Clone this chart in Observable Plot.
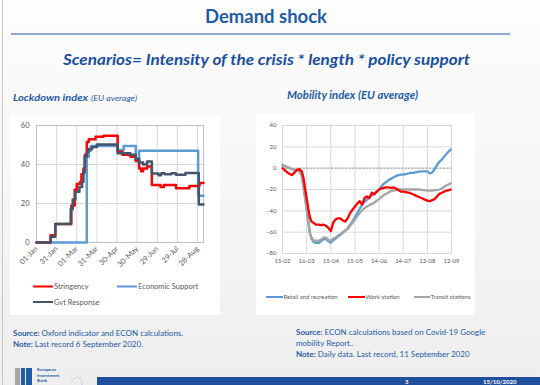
<!DOCTYPE html>
<html><head><meta charset="utf-8">
<script src="https://cdn.jsdelivr.net/npm/d3@7"></script>
<script src="https://cdn.jsdelivr.net/npm/@observablehq/plot@0.6"></script>
<style>
html,body{margin:0;padding:0;}
body{width:540px;height:385px;overflow:hidden;position:relative;font-family:Lato,sans-serif;background:linear-gradient(#fdfdfd 0%,#f8f8f8 35%,#eeeeee 100%);}
#bg{position:absolute;left:0;top:0;}
.chart{position:absolute;}
</style></head><body>
<svg id="bg" width="540" height="385" font-family="Lato, sans-serif">
  <line x1="2.5" y1="0" x2="2.5" y2="385" stroke="#c8c8c8" stroke-width="1"/>
  <text x="205" y="23" font-size="19" font-weight="bold" fill="#1f5aa6" textLength="122" lengthAdjust="spacingAndGlyphs">Demand shock</text>
  <line x1="11" y1="34" x2="510" y2="34" stroke="#1f5aa6" stroke-width="1"/>
  <text x="63" y="65" font-size="15" font-weight="bold" font-style="italic" fill="#1a4f9e" textLength="407" lengthAdjust="spacingAndGlyphs">Scenarios= Intensity of the crisis * length * policy support</text>
  <text x="13" y="101" font-size="10" font-weight="bold" font-style="italic" fill="#1f5aa6" textLength="75" lengthAdjust="spacingAndGlyphs">Lockdown index</text>
  <text x="91" y="101" font-size="7" font-style="italic" fill="#1f5aa6" textLength="46" lengthAdjust="spacingAndGlyphs">(EU average)</text>
  <text x="287" y="99" font-size="10.5" font-weight="bold" font-style="italic" fill="#1f5aa6" textLength="131" lengthAdjust="spacingAndGlyphs">Mobility index (EU average)</text>
  <rect x="10" y="115" width="210" height="200" fill="#ffffff"/>
  <rect x="256" y="114" width="219" height="201" fill="#ffffff"/>
  <g font-size="7.5" fill="#595959">
    <line x1="33" y1="286.5" x2="53" y2="286.5" stroke="#ff0000" stroke-width="2"/>
    <text x="54" y="289">Stringency</text>
    <line x1="117" y1="286.5" x2="137" y2="286.5" stroke="#5b9bd5" stroke-width="2"/>
    <text x="138" y="289">Economic Support</text>
    <line x1="33" y1="302" x2="53" y2="302" stroke="#44546a" stroke-width="2"/>
    <text x="54" y="304.5">Gvt Response</text>
  </g>
  <g font-size="6" fill="#595959">
    <line x1="266" y1="297" x2="283" y2="297" stroke="#5b9bd5" stroke-width="2"/>
    <text x="283.5" y="299">Retail and recreation</text>
    <line x1="348" y1="297" x2="365" y2="297" stroke="#ff0000" stroke-width="2"/>
    <text x="365.5" y="299">Work station</text>
    <line x1="414" y1="297" x2="430" y2="297" stroke="#a5a5a5" stroke-width="2"/>
    <text x="430.5" y="299">Transit stations</text>
  </g>
  <g font-size="8" fill="#1f5aa6">
    <text x="13" y="336"><tspan font-weight="bold">Source: </tspan>Oxford indicator and ECON calculations.</text>
    <text x="13" y="346.5"><tspan font-weight="bold">Note: </tspan>Last record 6 September 2020.</text>
    <text x="296" y="335"><tspan font-weight="bold">Source: </tspan>ECON calculations based on Covid-19 Google</text>
    <text x="296" y="346">mobility Report..</text>
    <text x="296" y="356.5"><tspan font-weight="bold">Note: </tspan>Daily data. Last record, 11 September 2020</text>
  </g>
  <rect x="97" y="377" width="443" height="8" fill="#1f4e9c"/>
  <g font-size="6" font-weight="bold" fill="#ffffff">
    <text x="405" y="383.5">3</text>
    <text x="483" y="383.5">15/10/2020</text>
  </g>
  <rect x="15" y="368" width="5" height="17" fill="#a6a6a6"/>
  <rect x="21" y="368" width="4" height="17" fill="#1f5aa6"/>
  <rect x="26" y="368" width="6" height="17" fill="#1f5aa6"/>
  <g font-size="4.5" font-weight="bold" fill="#1f5aa6">
    <text x="37" y="371">European</text>
    <text x="37" y="376.5">Investment</text>
    <text x="37" y="382">Bank</text>
  </g>
  <g fill="#7f9fcf">
    <circle cx="72" cy="381" r="0.6"/><circle cx="74" cy="378.5" r="0.6"/><circle cx="77" cy="377.5" r="0.6"/>
    <circle cx="80" cy="378.5" r="0.6"/><circle cx="82" cy="381" r="0.6"/><circle cx="82" cy="384" r="0.6"/>
  </g>
</svg>
<script>
// ---------- Lockdown index (step series) ----------
const stringencyDates = ["2020-01-01","2020-01-22","2020-01-29","2020-02-22","2020-02-27","2020-03-01","2020-03-06","2020-03-08","2020-03-11","2020-03-13","2020-03-16","2020-03-19","2020-03-29","2020-04-10","2020-05-01","2020-05-08","2020-05-20","2020-05-28","2020-06-02","2020-06-05","2020-06-08","2020-06-14","2020-06-21","2020-07-04","2020-07-09","2020-07-27","2020-08-16","2020-08-31","2020-09-06"];
const stringencyValues = [0,3.7,9.5,19,27,30,31,35,38,45,51.5,53,54.2,54.8,46.5,45,44,42,38,36.5,38,39,29.5,28.5,29.5,27.8,29,30.5,30.5];

const supportDates = ["2020-01-01","2020-03-16","2020-03-19","2020-03-22","2020-05-01","2020-05-10","2020-05-28","2020-06-02","2020-08-29","2020-09-06"];
const supportValues = [0,44,47,49.5,47.5,49.5,41.5,47,24,24];

const responseDates = ["2020-01-01","2020-01-22","2020-01-29","2020-02-21","2020-02-24","2020-02-28","2020-03-05","2020-03-09","2020-03-11","2020-03-13","2020-03-16","2020-03-19","2020-03-24","2020-03-31","2020-05-01","2020-05-20","2020-05-28","2020-06-02","2020-06-08","2020-06-14","2020-06-21","2020-07-01","2020-07-05","2020-07-10","2020-07-20","2020-07-27","2020-08-10","2020-08-30","2020-09-06"];
const responseValues = [0,3,9.5,17,22,26,28.5,31,36,44,46.5,48,49,50.3,45.8,45,43,41,40,41.5,35.4,34.5,35.5,35,35.5,34.8,35.6,19.5,19.5];

const lockdownTickDates = ["2020-01-01","2020-01-31","2020-03-01","2020-03-31","2020-04-30","2020-05-30","2020-06-29","2020-07-29","2020-08-28"];
const lockdownTickLabels = ["01-Jan","31-Jan","01-Mar","31-Mar","30-Apr","30-May","29-Jun","29-Jul","28-Aug"];
const lockdownYTicks = [0,20,40,60];

// ---------- Mobility index (daily readings) ----------
const mobilityDates = ["2020-02-15","2020-02-18","2020-02-21","2020-02-24","2020-02-27","2020-03-01","2020-03-04","2020-03-07","2020-03-10","2020-03-12","2020-03-14","2020-03-16","2020-03-18","2020-03-20","2020-03-22","2020-03-25","2020-03-28","2020-03-31","2020-04-03","2020-04-06","2020-04-09","2020-04-12","2020-04-15","2020-04-18","2020-04-21","2020-04-24","2020-04-27","2020-04-30","2020-05-03","2020-05-06","2020-05-09","2020-05-12","2020-05-15","2020-05-18","2020-05-21","2020-05-24","2020-05-27","2020-05-30","2020-06-02","2020-06-05","2020-06-08","2020-06-11","2020-06-14","2020-06-17","2020-06-20","2020-06-23","2020-06-26","2020-06-29","2020-07-02","2020-07-05","2020-07-08","2020-07-11","2020-07-14","2020-07-17","2020-07-20","2020-07-23","2020-07-26","2020-07-29","2020-08-01","2020-08-04","2020-08-07","2020-08-10","2020-08-13","2020-08-16","2020-08-19","2020-08-22","2020-08-25","2020-08-28","2020-08-31","2020-09-03","2020-09-06","2020-09-09","2020-09-11"];
const retailValues = [3,2,1,0,-1,
  -1.5,-2,-2.5,-6,-16,-27,-38,-50,-61,-66,-69.5,-70,-70,
  -68.5,-66.5,-66.5,-68.5,-70,-67.5,-66,-64,-62.5,-60.5,
  -58.5,-56.5,-53,-50,-46,-42,-38,-34.5,-31.5,-29.5,
  -27.5,-25.5,-24,-22,-20,-17,-14.5,-13,-11,-10,
  -8.5,-7.5,-6.5,-6,-6,-5.5,-5,-4.5,-4.5,-4,
  -3.5,-3,-3,-3,-3,-5,-4,-1,3,6,8,
  11,13.5,16,17.5];
const workValues = [0,-2,-4,-5.5,-6.5,
  -4,-1.5,-1,-3,-9,-19,-28,-38,-46,-50,-51.5,-53,-53,
  -53.5,-53,-54,-56,-59,-51,-48,-47,-47,-49,
  -50,-47,-42,-39,-36,-33,-31,-34,-28,-26.5,
  -28,-23,-24.5,-22,-20,-19,-18.5,-18,-18,-18.5,
  -18,-19,-20.5,-22,-22,-22.5,-23,-23.5,-24.5,-25.5,
  -26.5,-27.5,-28.5,-29.5,-30.5,-31,-30,-29,-26.5,-24,-23,
  -22,-21,-20.5,-20];
const transitValues = [2.5,2,1,0,-1,
  -1.5,-2,-3,-8,-18,-28,-38,-50,-60,-65,-68,-68,-68,
  -67,-65,-65,-67,-68.5,-66,-65,-63,-62,-60,
  -58.5,-57,-54,-51.5,-48,-45,-42,-39.5,-37.5,-36,
  -34.5,-33.5,-32.5,-30.5,-29,-27,-25,-24,-22.5,-21.5,
  -21,-20.5,-20,-20,-20,-20,-20,-20,-20,-20,
  -20,-20,-20.5,-20.5,-21,-21,-21,-20.5,-20.5,-20,-19,
  -17.5,-16,-15,-14];
const mobilityTickDates = ["2020-02-15","2020-03-16","2020-04-15","2020-05-15","2020-06-14","2020-07-14","2020-08-13","2020-09-12"];
const mobilityTickLabels = ["15-02","16-03","15-04","15-05","14-06","14-07","13-08","12-09"];
const mobilityYTicks = [40,20,0,-20,-40,-60,-80];

// ---------- build ----------
const toRows = (dates, values) => dates.map((d, i) => ({date: new Date(d), value: values[i]}));
const lockTicks = lockdownTickDates.map(d => new Date(d));
const lockLabel = new Map(lockTicks.map((d, i) => [+d, lockdownTickLabels[i]]));
const mobTicks = mobilityTickDates.map(d => new Date(d));
const mobLabel = new Map(mobTicks.map((d, i) => [+d, mobilityTickLabels[i]]));

const left = Plot.plot({
  width: 210, height: 165,
  marginLeft: 26, marginRight: 17, marginTop: 10, marginBottom: 38,
  style: {fontFamily: "Lato, sans-serif", fontSize: "7.5px", color: "#595959", background: "transparent"},
  x: {type: "utc", domain: [new Date("2020-01-01"), new Date("2020-09-06")], label: null},
  y: {domain: [0, 60], label: null},
  marks: [
    Plot.gridX(lockTicks, {stroke: "#d9d9d9", strokeOpacity: 1}),
    Plot.gridY(lockdownYTicks, {stroke: "#d9d9d9", strokeOpacity: 1}),
    Plot.frame({stroke: "#bfbfbf"}),
    Plot.axisY(lockdownYTicks, {tickSize: 0, tickPadding: 7, label: null}),
    Plot.axisX(lockTicks, {tickSize: 0, tickPadding: 5, tickRotate: -45, label: null, tickFormat: d => lockLabel.get(+d)}),
    Plot.line(toRows(supportDates, supportValues), {x: "date", y: "value", stroke: "#5b9bd5", strokeWidth: 2.5, curve: "step-after"}),
    Plot.line(toRows(stringencyDates, stringencyValues), {x: "date", y: "value", stroke: "#ff0000", strokeWidth: 2.5, curve: "step-after"}),
    Plot.line(toRows(responseDates, responseValues), {x: "date", y: "value", stroke: "#44546a", strokeWidth: 2.5, curve: "step-after"})
  ]
});
left.classList.add("chart");
left.style.left = "10px"; left.style.top = "115px";
document.body.appendChild(left);

const right = Plot.plot({
  width: 219, height: 155,
  marginLeft: 26, marginRight: 24, marginTop: 11, marginBottom: 16,
  style: {fontFamily: "Lato, sans-serif", fontSize: "6px", color: "#595959", background: "transparent"},
  x: {type: "utc", domain: [new Date("2020-02-15"), new Date("2020-09-12")], label: null},
  y: {domain: [-80, 40], label: null},
  marks: [
    Plot.gridX(mobTicks, {stroke: "#d9d9d9", strokeOpacity: 1}),
    Plot.gridY(mobilityYTicks, {stroke: "#d9d9d9", strokeOpacity: 1}),
    Plot.ruleY([0], {stroke: "#808080", strokeWidth: 0.7, strokeDasharray: "2,1.5"}),
    Plot.axisY(mobilityYTicks, {tickSize: 0, tickPadding: 6, label: null}),
    Plot.axisX(mobTicks, {tickSize: 0, tickPadding: 5, label: null, tickFormat: d => mobLabel.get(+d)}),
    Plot.line(toRows(mobilityDates, retailValues), {x: "date", y: "value", stroke: "#5b9bd5", strokeWidth: 2.3}),
    Plot.line(toRows(mobilityDates, transitValues), {x: "date", y: "value", stroke: "#a5a5a5", strokeWidth: 2.3}),
    Plot.line(toRows(mobilityDates, workValues), {x: "date", y: "value", stroke: "#ff0000", strokeWidth: 2.3})
  ]
});
right.classList.add("chart");
right.style.left = "256px"; right.style.top = "114px";
document.body.appendChild(right);
</script>
</body></html>
